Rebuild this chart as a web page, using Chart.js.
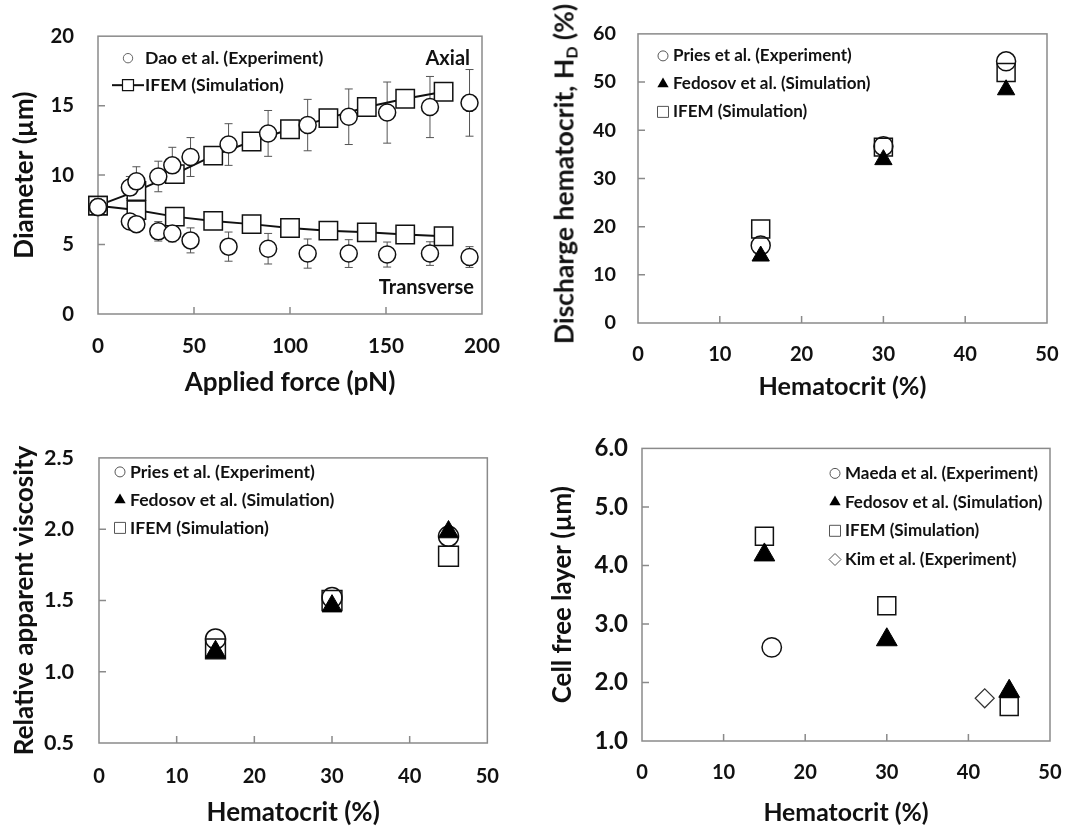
<!DOCTYPE html>
<html>
<head>
<meta charset="utf-8">
<script src="https://cdn.jsdelivr.net/npm/chart.js@4.4.1/dist/chart.umd.min.js"></script>
<style>
body { margin: 0; background: #fff; }
#wrap { position: relative; width: 1082px; height: 827px; font-family: Lato, "Open Sans", sans-serif; color: #111; }
canvas { position: absolute; }
#hdTitle {
  position: absolute; left: 565px; top: 174px; white-space: nowrap;
  font-weight: bold; font-size: 26.5px; line-height: 1;
  transform: translate(-50%, -50%) rotate(-90deg);
}
#hdTitle sub { font-size: 16px; vertical-align: -4px; }
</style>
</head>
<body>
<div id="wrap">
  <canvas id="cA" width="520" height="410" style="left:0;top:0"></canvas>
  <canvas id="cB" width="542" height="410" style="left:540px;top:0"></canvas>
  <canvas id="cC" width="520" height="407" style="left:0;top:420px"></canvas>
  <canvas id="cD" width="542" height="407" style="left:540px;top:420px"></canvas>
  <div id="hdTitle">Discharge hematocrit, H<sub>D</sub> (%)</div>
</div>
<script>
// ---- (a) RBC stretching: diameter vs applied force
const daoForce = [0, 16.6, 20, 31.4, 38.7, 48.2, 68, 88.6, 109.2, 130.6, 150.6, 172.9, 193.5];
const daoAxial = [7.7, 9.1, 9.55, 9.9, 10.7, 11.3, 12.2, 13.0, 13.6, 14.2, 14.5, 14.9, 15.2];
const daoAxialErr = [0, 0.8, 1.05, 1.1, 1.3, 1.4, 1.5, 1.65, 1.85, 2.0, 2.2, 2.2, 2.4];
const daoTrans = [7.7, 6.66, 6.47, 5.95, 5.79, 5.3, 4.85, 4.7, 4.35, 4.35, 4.28, 4.35, 4.1];
const daoTransErr = [0, 0.5, 0.5, 0.7, 0.6, 0.9, 1.05, 1.1, 1.05, 1.0, 0.9, 0.85, 0.75];
const ifemForce = [0, 20, 40, 60, 80, 100, 120, 140, 160, 180];
const ifemAxial = [7.8, 8.85, 10.07, 11.4, 12.42, 13.3, 14.1, 14.9, 15.5, 16.0];
const ifemTrans = [7.8, 7.48, 7.01, 6.7, 6.47, 6.19, 6.0, 5.88, 5.72, 5.6];
const namesA = ['Dao et al. (Experiment)', 'IFEM (Simulation)'];

// ---- hematocrit comparisons
const hct = [15, 30, 45];
const priesHd = [16.1, 36.7, 54.3];
const fedosovHd = [13.9, 33.9, 48.4];
const ifemHd = [19.5, 36.5, 52];
const priesVisc = [1.23, 1.52, 1.95];
const fedosovVisc = [1.14, 1.46, 1.98];
const ifemVisc = [1.16, 1.50, 1.81];
const fedosovCfl = [4.18, 2.73, 1.85];
const ifemCfl = [4.5, 3.31, 1.59];
const maedaHct = [15.9];
const maedaCfl = [2.6];
const kimHct = [42];
const kimCfl = [1.73];
const namesB = ['Pries et al. (Experiment)', 'Fedosov et al. (Simulation)', 'IFEM (Simulation)'];
const namesD = ['Maeda et al. (Experiment)', 'Fedosov et al. (Simulation)', 'IFEM (Simulation)', 'Kim et al. (Experiment)'];

const pts = (xs, ys) => xs.map((x, i) => ({ x: x, y: ys[i] }));

const FAMILY = 'Lato, "Open Sans", sans-serif';
Chart.defaults.font.family = FAMILY;
Chart.defaults.font.weight = 'bold';
Chart.defaults.color = '#111';
Chart.defaults.animation = false;
Chart.defaults.plugins.legend.display = false;
Chart.defaults.plugins.tooltip.enabled = false;

// font size that makes a string as wide as in the reference
const mctx = document.createElement('canvas').getContext('2d');
function fit(text, w) {
  mctx.font = 'bold 100px ' + FAMILY;
  return +(100 * w / mctx.measureText(text).width).toFixed(1);
}

function marker(ctx, style, x, y, r) {
  ctx.beginPath();
  if (style === 'circle') {
    ctx.arc(x, y, r, 0, Math.PI * 2);
  } else if (style === 'rect') {
    ctx.rect(x - r, y - r, 2 * r, 2 * r);
  } else if (style === 'triangle') {
    ctx.moveTo(x, y - r);
    ctx.lineTo(x + r * 0.866, y + r * 0.5);
    ctx.lineTo(x - r * 0.866, y + r * 0.5);
    ctx.closePath();
  } else if (style === 'rectRot') {
    ctx.moveTo(x, y - r); ctx.lineTo(x + r, y); ctx.lineTo(x, y + r); ctx.lineTo(x - r, y);
    ctx.closePath();
  }
}

// plot frame, inward tick marks and error bars
const frame = {
  id: 'frame',
  beforeDatasetsDraw(chart) {
    const { ctx, chartArea: a, scales: { x, y } } = chart;
    ctx.save();
    ctx.strokeStyle = '#8a8a8a';
    ctx.lineWidth = 1.5;
    ctx.strokeRect(a.left, a.top, a.right - a.left, a.bottom - a.top);
    ctx.beginPath();
    x.ticks.forEach(t => {
      if (t.value > x.min && t.value < x.max) {
        const p = x.getPixelForValue(t.value);
        ctx.moveTo(p, a.bottom); ctx.lineTo(p, a.bottom - 7);
      }
    });
    y.ticks.forEach(t => {
      if (t.value > y.min && t.value < y.max) {
        const p = y.getPixelForValue(t.value);
        ctx.moveTo(a.left, p); ctx.lineTo(a.left + 7, p);
      }
    });
    ctx.stroke();
    // error bars
    ctx.strokeStyle = '#555';
    ctx.lineWidth = 1;
    chart.data.datasets.forEach(ds => {
      if (!ds.errors) return;
      ctx.beginPath();
      ds.data.forEach((p, i) => {
        const e = ds.errors[i];
        if (!e) return;
        const px = x.getPixelForValue(p.x);
        const y1 = y.getPixelForValue(p.y + e), y2 = y.getPixelForValue(p.y - e);
        ctx.moveTo(px, y1); ctx.lineTo(px, y2);
        ctx.moveTo(px - 4, y1); ctx.lineTo(px + 4, y1);
        ctx.moveTo(px - 4, y2); ctx.lineTo(px + 4, y2);
      });
      ctx.stroke();
    });
    ctx.restore();
  }
};

// legend and notes drawn inside the plot area
const insideLegend = {
  id: 'insideLegend',
  afterDraw(chart, args, o) {
    if (!o.items) return;
    const { ctx, chartArea: a } = chart;
    ctx.save();
    ctx.font = 'bold ' + o.size + 'px ' + FAMILY;
    ctx.textBaseline = 'middle';
    o.items.forEach((it, i) => {
      const y = a.top + o.top + i * o.gap;
      const mx = a.left + o.left;
      if (it.line) {
        ctx.strokeStyle = '#111'; ctx.lineWidth = 2;
        ctx.beginPath(); ctx.moveTo(mx - 16, y); ctx.lineTo(mx + 16, y); ctx.stroke();
      }
      marker(ctx, it.style, mx, y, it.r);
      ctx.fillStyle = it.fill; ctx.fill();
      if (it.stroke) { ctx.strokeStyle = it.stroke; ctx.lineWidth = it.lw || 1; ctx.stroke(); }
      ctx.fillStyle = '#111';
      ctx.textAlign = 'left';
      ctx.fillText(it.text, a.left + o.textX, y);
    });
    (o.notes || []).forEach(n => {
      ctx.font = 'bold ' + n.size + 'px ' + FAMILY;
      ctx.textAlign = 'right';
      ctx.fillText(n.text, a.right - n.right, n.fromBottom ? a.bottom - n.fromBottom : a.top + n.top);
    });
    ctx.restore();
  }
};

Chart.register(frame, insideLegend);

// o.xtc: x-title centre above canvas bottom, o.ytc: y-title centre right of canvas left
function axes(o) {
  return {
    x: {
      type: 'linear', min: o.xmin, max: o.xmax,
      afterFit: s => { s.height = o.xh; },
      grid: { display: false, drawTicks: false }, border: { display: false },
      ticks: { stepSize: o.xstep, padding: o.xpad, maxRotation: 0, font: { size: o.xts, weight: 'bold' } },
      title: { display: true, text: o.xtitle, font: { size: o.xtsize, weight: 'bold', lineHeight: 1 },
               padding: { top: 0, bottom: o.xtc - o.xtsize / 2 } }
    },
    y: {
      type: 'linear', min: o.ymin, max: o.ymax,
      afterFit: s => { s.width = o.yw; },
      grid: { display: false, drawTicks: false }, border: { display: false },
      ticks: { stepSize: o.ystep, padding: o.ypad, font: { size: o.yts, weight: 'bold' },
               callback: o.yfix ? (v => v.toFixed(o.yfix)) : (v => v) },
      title: { display: !!o.ytitle, text: o.ytitle || '', font: { size: o.ytsize || 20, weight: 'bold', lineHeight: 1 },
               padding: { top: o.ytitle ? o.ytc - o.ytsize / 2 : 0, bottom: 0 } }
    }
  };
}

const openCircle = (r, fill) => ({ pointStyle: 'circle', pointRadius: r, pointBackgroundColor: fill, pointBorderColor: '#111', pointBorderWidth: 1.5, showLine: false, clip: false });
const openSquare = (r, fill) => ({ pointStyle: 'rect', pointRadius: r, pointBackgroundColor: fill, pointBorderColor: '#111', pointBorderWidth: 1.5, showLine: false, clip: false });
const solidTri = r => ({ pointStyle: 'triangle', pointRadius: r, pointBackgroundColor: '#000', pointBorderColor: '#000', pointBorderWidth: 1, showLine: false, clip: false });
const none = 'rgba(0,0,0,0)';

// (a)
const noteSize = fit('Transverse', 95);
new Chart(document.getElementById('cA'), {
  type: 'scatter',
  data: {
    datasets: [
      Object.assign({ label: namesA[0] + ' axial', data: pts(daoForce, daoAxial), errors: daoAxialErr }, openCircle(8.5, '#fff')),
      Object.assign({ label: namesA[0] + ' transverse', data: pts(daoForce, daoTrans), errors: daoTransErr }, openCircle(8.5, '#fff')),
      Object.assign({ label: namesA[1] + ' axial', data: pts(ifemForce, ifemAxial) }, openSquare(13, '#fff'), { showLine: true, borderColor: '#111', borderWidth: 2 }),
      Object.assign({ label: namesA[1] + ' transverse', data: pts(ifemForce, ifemTrans) }, openSquare(13, '#fff'), { showLine: true, borderColor: '#111', borderWidth: 2 })
    ]
  },
  options: {
    responsive: false, devicePixelRatio: 1,
    layout: { padding: { top: 31, right: 33, left: 0, bottom: 0 } },
    scales: axes({ xmin: 0, xmax: 200, xstep: 50, xh: 96, xpad: 20, xts: fit('200', 36),
                   xtitle: 'Applied force (pN)', xtsize: fit('Applied force (pN)', 211), xtc: 27,
                   ymin: 0, ymax: 20, ystep: 5, yw: 98, ypad: 24, yts: fit('20', 23.5),
                   ytitle: 'Diameter (µm)', ytsize: fit('Diameter (µm)', 167), ytc: 25 }),
    plugins: {
      insideLegend: {
        size: fit(namesA[0], 178), left: 30, top: 22, gap: 27, textX: 47,
        items: [
          { text: namesA[0], style: 'circle', r: 4.7, fill: '#fff', stroke: '#666', lw: 1 },
          { text: namesA[1], style: 'rect', r: 5.5, fill: '#fff', stroke: '#111', lw: 1.2, line: true }
        ],
        notes: [
          { text: 'Axial', size: noteSize, right: 12, top: 22 },
          { text: 'Transverse', size: noteSize, right: 8, fromBottom: 26 }
        ]
      }
    }
  }
});

// (b)
new Chart(document.getElementById('cB'), {
  type: 'scatter',
  data: {
    datasets: [
      Object.assign({ label: namesB[1], data: pts(hct, fedosovHd) }, solidTri(10)),
      Object.assign({ label: namesB[0], data: pts(hct, priesHd) }, openCircle(9.5, none)),
      Object.assign({ label: namesB[2], data: pts(hct, ifemHd) }, openSquare(12.7, none))
    ]
  },
  options: {
    responsive: false, devicePixelRatio: 1,
    layout: { padding: { top: 29, right: 35, left: 0, bottom: 0 } },
    scales: axes({ xmin: 0, xmax: 50, xstep: 10, xh: 87, xpad: 19, xts: fit('20', 23.3),
                   xtitle: 'Hematocrit (%)', xtsize: fit('Hematocrit (%)', 168), xtc: 23,
                   ymin: 0, ymax: 60, ystep: 10, yw: 98, ypad: 22, yts: fit('60', 23) }),
    plugins: {
      insideLegend: {
        size: fit(namesB[1], 197), left: 25, top: 22, gap: 28, textX: 35,
        items: [
          { text: namesB[0], style: 'circle', r: 5, fill: '#fff', stroke: '#555', lw: 1 },
          { text: namesB[1], style: 'triangle', r: 6.5, fill: '#000' },
          { text: namesB[2], style: 'rect', r: 5.5, fill: '#fff', stroke: '#555', lw: 1 }
        ]
      }
    }
  }
});

// (c)
new Chart(document.getElementById('cC'), {
  type: 'scatter',
  data: {
    datasets: [
      Object.assign({ label: namesB[1], data: pts(hct, fedosovVisc) }, solidTri(11.5)),
      Object.assign({ label: namesB[0], data: pts(hct, priesVisc) }, openCircle(10, none)),
      Object.assign({ label: namesB[2], data: pts(hct, ifemVisc) }, openSquare(14, none))
    ]
  },
  options: {
    responsive: false, devicePixelRatio: 1,
    layout: { padding: { top: 21, right: 29, left: 0, bottom: 0 } },
    scales: axes({ xmin: 0, xmax: 50, xstep: 10, xh: 84, xpad: 21, xts: fit('20', 23.3),
                   xtitle: 'Hematocrit (%)', xtsize: fit('Hematocrit (%)', 173), xtc: 14,
                   ymin: 0.5, ymax: 2.5, ystep: 0.5, yfix: 1, yw: 99, ypad: 25, yts: fit('2.5', 30),
                   ytitle: 'Relative apparent viscosity', ytsize: fit('Relative apparent viscosity', 309), ytc: 25 }),
    plugins: {
      insideLegend: {
        size: fit(namesB[1], 204), left: 21, top: 14, gap: 28, textX: 31,
        items: [
          { text: namesB[0], style: 'circle', r: 5, fill: '#fff', stroke: '#555', lw: 1 },
          { text: namesB[1], style: 'triangle', r: 6.5, fill: '#000' },
          { text: namesB[2], style: 'rect', r: 5.5, fill: '#fff', stroke: '#555', lw: 1 }
        ]
      }
    }
  }
});

// (d)
new Chart(document.getElementById('cD'), {
  type: 'scatter',
  data: {
    datasets: [
      Object.assign({ label: namesD[1], data: pts(hct, fedosovCfl) }, solidTri(12)),
      Object.assign({ label: namesD[0], data: pts(maedaHct, maedaCfl) }, openCircle(9.7, none)),
      Object.assign({ label: namesD[2], data: pts(hct, ifemCfl) }, openSquare(12.7, none)),
      { label: namesD[3], data: pts(kimHct, kimCfl), pointStyle: 'rectRot', pointRadius: 9.5, pointBackgroundColor: none,
        pointBorderColor: '#333', pointBorderWidth: 1.2, showLine: false, clip: false }
    ]
  },
  options: {
    responsive: false, devicePixelRatio: 1,
    layout: { padding: { top: 16, right: 32, left: 0, bottom: 0 } },
    scales: axes({ xmin: 0, xmax: 50, xstep: 10, xh: 86, xpad: 19, xts: fit('10', 23.3),
                   xtitle: 'Hematocrit (%)', xtsize: fit('Hematocrit (%)', 165), xtc: 14,
                   ymin: 1, ymax: 6, ystep: 1, yfix: 1, yw: 102, ypad: 14, yts: 24,
                   ytitle: 'Cell free layer (µm)', ytsize: fit('Cell free layer (µm)', 217), ytc: 23 }),
    plugins: {
      insideLegend: {
        size: fit(namesD[1], 197), left: 193, top: 25, gap: 28.7, textX: 203,
        items: [
          { text: namesD[0], style: 'circle', r: 5, fill: '#fff', stroke: '#555', lw: 1 },
          { text: namesD[1], style: 'triangle', r: 6.5, fill: '#000' },
          { text: namesD[2], style: 'rect', r: 5.5, fill: '#fff', stroke: '#555', lw: 1 },
          { text: namesD[3], style: 'rectRot', r: 6, fill: '#fff', stroke: '#555', lw: 1 }
        ]
      }
    }
  }
});
</script>
</body>
</html>
